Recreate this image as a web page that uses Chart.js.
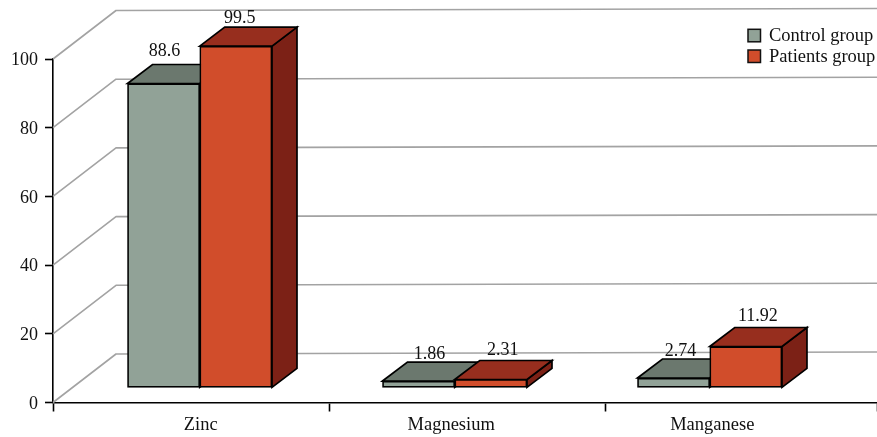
<!DOCTYPE html>
<html><head><meta charset="utf-8">
<script src="https://cdn.jsdelivr.net/npm/chart.js@4"></script>
<style>html,body{margin:0;padding:0;background:#fff;overflow:hidden}canvas{display:block}</style>
</head><body><canvas id="c" width="877" height="437"></canvas>
<script>
const categories = ["Zinc", "Magnesium", "Manganese"];
const seriesNames = ["Control group", "Patients group"];
const controlGroup = [88.6, 1.86, 2.74];
const patientsGroup = [99.5, 2.31, 11.92];
const yTicks = [0, 20, 40, 60, 80, 100];

const FONT = '"Liberation Serif", serif';
const faces = [
  {front:'#91a297', top:'#6b786e', side:'#5f6b62'},
  {front:'#d14d2b', top:'#972e1e', side:'#7c2116'}
];
const WALL = {dx:63, dy:-48.5, slope:-2, color:'#a3a3a3', width:1.6};
const BAR = {dx:25, dy:-19, line:1.7};
// small text nudges relative to the top-back edge of each bar, [series][category]
const labelNudge = [
  [[1,-13.5],[11,-8],[7,-8]],
  [[4,-9],[12,-10],[12,-11]]
];
// the category labels sit slightly off the bar-group centres
const labelShift = [0.004, -0.014, 0.01];

const bars3d = {
  id:'bars3d',
  beforeDatasetsDraw(chart){
    const {ctx, chartArea:a, scales} = chart;
    ctx.save();
    ctx.strokeStyle = WALL.color; ctx.lineWidth = WALL.width; ctx.lineJoin='round';
    yTicks.forEach(v=>{
      const y = scales.y.getPixelForValue(v);
      ctx.beginPath();
      ctx.moveTo(a.left, y);
      ctx.lineTo(a.left+WALL.dx, y+WALL.dy);
      ctx.lineTo(a.right, y+WALL.dy+WALL.slope);
      ctx.stroke();
    });
    ctx.lineJoin='miter'; ctx.strokeStyle='#000'; ctx.lineWidth=BAR.line;
    chart.data.datasets.forEach((ds,di)=>{
      chart.getDatasetMeta(di).data.forEach(b=>{
        const l=b.x-b.width/2, r=b.x+b.width/2, t=b.y, bot=b.base;
        ctx.fillStyle=faces[di].side;
        ctx.beginPath();
        ctx.moveTo(r,t);ctx.lineTo(r+BAR.dx,t+BAR.dy);ctx.lineTo(r+BAR.dx,bot+BAR.dy);ctx.lineTo(r,bot);ctx.closePath();
        ctx.fill();ctx.stroke();
        ctx.fillStyle=faces[di].top;
        ctx.beginPath();
        ctx.moveTo(l,t);ctx.lineTo(l+BAR.dx,t+BAR.dy);ctx.lineTo(r+BAR.dx,t+BAR.dy);ctx.lineTo(r,t);ctx.closePath();
        ctx.fill();ctx.stroke();
      });
    });
    ctx.restore();
  },
  afterDatasetsDraw(chart){
    const {ctx} = chart;
    ctx.save();
    ctx.font = '18px '+FONT; ctx.fillStyle='#111'; ctx.textAlign='center'; ctx.textBaseline='middle';
    chart.data.datasets.forEach((ds,di)=>{
      chart.getDatasetMeta(di).data.forEach((b,i)=>{
        const n = labelNudge[di][i];
        ctx.fillText(String(ds.data[i].y), b.x+n[0], b.y+BAR.dy+n[1]);
      });
    });
    // legend
    const lx=748, ly=[29.3,50];
    ctx.textAlign='left'; ctx.font='18.5px '+FONT;
    seriesNames.forEach((s,i)=>{
      ctx.fillStyle=faces[i].front; ctx.strokeStyle='#111'; ctx.lineWidth=1.5;
      ctx.fillRect(lx,ly[i],12.5,12.5); ctx.strokeRect(lx,ly[i],12.5,12.5);
      ctx.fillStyle='#111';
      ctx.fillText(s, 769, ly[i]+7);
    });
    ctx.restore();
  }
};

new Chart(document.getElementById('c'),{
  type:'bar',
  data:{
    datasets:[
      {label:seriesNames[0], data:categories.map((c,i)=>({x:i,y:controlGroup[i]})), backgroundColor:faces[0].front, xAxisID:'x', yAxisID:'yBar'},
      {label:seriesNames[1], data:categories.map((c,i)=>({x:i,y:patientsGroup[i]})), backgroundColor:faces[1].front, xAxisID:'x', yAxisID:'yBar'}
    ]
  },
  plugins:[bars3d],
  options:{
    responsive:false, animation:false, devicePixelRatio:1,
    layout:{padding:{top:59,right:0,bottom:0,left:0}},
    plugins:{legend:{display:false},tooltip:{enabled:false}},
    datasets:{bar:{barThickness:72.25,borderColor:'#000',borderWidth:1.7,borderSkipped:false,clip:false,grouped:true}},
    scales:{
      frame:{
        type:'linear',axis:'x',position:'bottom',weight:0,min:0,max:2.9855,offset:false,
        ticks:{display:false,stepSize:1},
        grid:{offset:false,drawOnChartArea:false,drawTicks:true,tickLength:9,tickColor:'#000',tickWidth:1.6},
        border:{display:true,color:'#000',width:1.6},
        afterFit(s){s.height=9;}
      },
      x:{
        type:'linear',position:'bottom',weight:1,min:-0.5755,max:2.656,offset:false,
        afterBuildTicks(s){s.ticks=categories.map((c,i)=>({value:i+labelShift[i]}));},
        ticks:{autoSkip:false,maxRotation:0,padding:3,color:'#111',font:{family:FONT,size:18.5},callback:v=>categories[Math.round(v)]},
        grid:{offset:false,display:false,drawTicks:false},
        border:{display:false},
        afterFit(s){s.height=25.5;}
      },
      y:{
        type:'linear',position:'left',min:0,max:100,
        ticks:{stepSize:20,padding:7,labelOffset:1.5,color:'#111',font:{family:FONT,size:18}},
        grid:{drawOnChartArea:false,tickLength:8,tickColor:'#000',tickWidth:1.6},
        border:{display:true,color:'#000',width:1.6},
        afterFit(s){s.width=53;}
      },
      yBar:{
        type:'linear',display:false,position:'left',min:-4.4,max:95.75
      }
    }
  }
});
</script></body></html>
